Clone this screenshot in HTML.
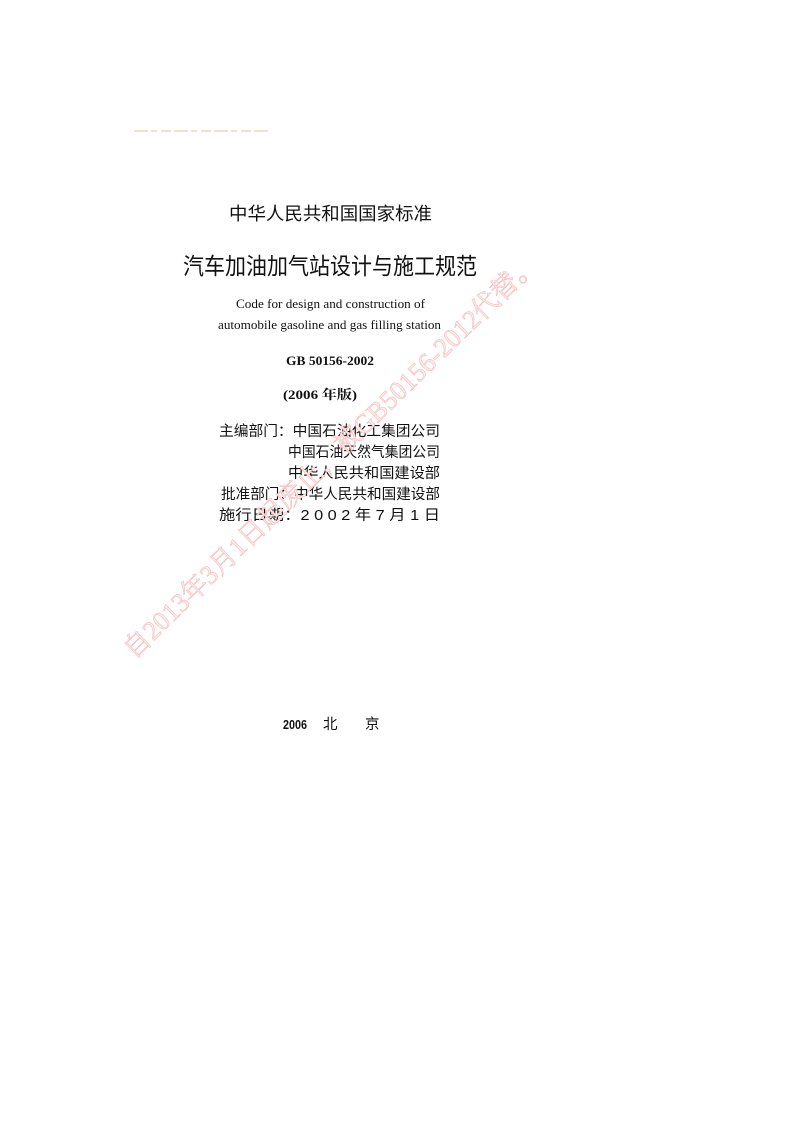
<!DOCTYPE html>
<html><head><meta charset="utf-8"><style>
html,body{margin:0;padding:0;background:#fff;}
svg{display:block;}
</style></head><body>
<svg width="794" height="1123" viewBox="0 0 794 1123" xmlns="http://www.w3.org/2000/svg">
<rect width="794" height="1123" fill="#fff"/>
<line x1="134" y1="131" x2="268" y2="131" stroke="#e6dcb8" stroke-width="1.5" stroke-dasharray="14,3,6,4,10,3"/>
<g font-family="'Liberation Serif','Noto Serif CJK SC',serif" fill="#111">
<text x="229" y="220" font-family="'Liberation Sans','Noto Sans CJK SC',sans-serif" font-size="18" textLength="203" lengthAdjust="spacingAndGlyphs">中华人民共和国国家标准</text>
<text x="183" y="274" font-family="'Liberation Sans','Noto Sans CJK SC',sans-serif" font-size="23" textLength="294" lengthAdjust="spacingAndGlyphs">汽车加油加气站设计与施工规范</text>
<text x="236" y="308" font-size="13" textLength="189" lengthAdjust="spacingAndGlyphs">Code for design and construction of</text>
<text x="218" y="329" font-size="13" textLength="223" lengthAdjust="spacingAndGlyphs">automobile gasoline and gas filling station</text>
<text x="286" y="365" font-size="13" font-weight="bold" textLength="88" lengthAdjust="spacingAndGlyphs">GB 50156-2002</text>
<text x="283" y="399" font-size="13" font-weight="bold" textLength="74" lengthAdjust="spacingAndGlyphs">(2006 年版)</text>
<g font-family="'Liberation Sans','Noto Sans CJK SC',sans-serif" font-size="14.5">
<text x="219" y="436" textLength="221" lengthAdjust="spacingAndGlyphs">主编部门：中国石油化工集团公司</text>
<text x="288" y="457" textLength="152" lengthAdjust="spacingAndGlyphs">中国石油天然气集团公司</text>
<text x="288" y="478" textLength="152" lengthAdjust="spacingAndGlyphs">中华人民共和国建设部</text>
<text x="221" y="499" textLength="219" lengthAdjust="spacingAndGlyphs">批准部门：中华人民共和国建设部</text>
<text x="219" y="520" textLength="221" lengthAdjust="spacingAndGlyphs">施行日期：2 0 0 2 年 7 月 1 日</text>
<text x="323" y="729">北</text>
<text x="365" y="729">京</text>
</g>
<text x="283" y="729" font-family="'Liberation Sans',sans-serif" font-size="13" font-weight="bold" textLength="24" lengthAdjust="spacingAndGlyphs">2006</text>
</g>
<text x="0" y="0" transform="translate(134,660) rotate(-44.2)" font-family="'Liberation Serif','Noto Serif CJK SC',serif" font-size="27" fill="#fdeaea" stroke="#f5bcbc" stroke-width="0.6" textLength="566" lengthAdjust="spacingAndGlyphs">自2013年3月1日起废止，被GB50156-2012代替。</text>
</svg>
</body></html>
